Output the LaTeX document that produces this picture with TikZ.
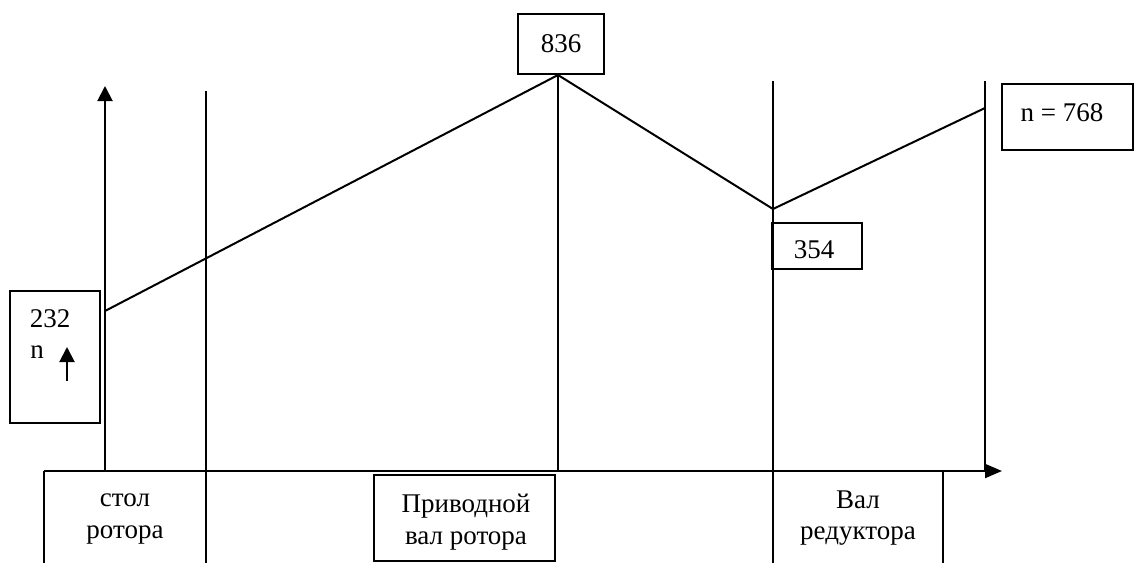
\documentclass[tikz,border=0pt]{standalone}
\usepackage{fontspec}
\setmainfont{Liberation Serif}
\usetikzlibrary{arrows.meta}
\begin{document}
\begin{tikzpicture}[x=1pt,y=-1pt,
  ln/.style={line width=2pt},
  bx/.style={draw,line width=1.8pt},
  lbl/.style={font=\fontsize{27}{31.5}\selectfont,inner sep=0pt,align=center},
  tip/.style={-{Triangle[length=15pt,width=15pt]}}]
\useasboundingbox (0,0) rectangle (1134,563);
% label boxes
\node[bx,minimum width=90pt,minimum height=132pt,inner sep=0pt] (b232) at (55,357) {};
\node[lbl] (t232) at (50,319) {232};
\node[lbl] (tn) at (37,352) {n};
\coordinate (sa0) at (67,381);
\coordinate (sa1) at (67,347);
\draw[ln,tip] (sa0) -- (sa1);
\node[bx,minimum width=86pt,minimum height=60pt,inner sep=0pt] (b836) at (561,44) {};
\node[lbl] (t836) at (561,44) {836};
\node[bx,minimum width=131pt,minimum height=66pt,inner sep=0pt] (b768) at (1067.5,117) {};
\node[lbl] (t768) at (1062,113) {n = 768};
\node[bx,minimum width=90pt,minimum height=46pt,inner sep=0pt] (b354) at (817,246) {};
\node[lbl] (t354) at (814,250) {354};
\node[bx,minimum width=181pt,minimum height=86pt,inner sep=0pt] (bpriv) at (464.5,518) {};
\node[lbl] (tpriv) at (466,522) {Приводной\\вал ротора};
\node[lbl] (tstol) at (125,519) {стол\\ротора};
\node[lbl] (tval) at (858,518) {Вал\\редуктора};
% axes
\coordinate (o) at (105,471);
\coordinate (ytop) at (105,86);
\coordinate (xl) at (44,471);
\coordinate (xr) at (1002,471);
\draw[ln,tip] (o) -- (ytop);
\draw[ln,-{Triangle[length=17pt,width=14pt]}] (xl) -- (xr);
% bottom box edges
\coordinate (sl) at (44,563);
\coordinate (vr) at (943,471);
\coordinate (vrb) at (943,563);
\draw[ln] (xl) -- (sl);
\draw[ln] (vr) -- (vrb);
% verticals
\coordinate (v1t) at (206,91);
\coordinate (v1b) at (206,563);
\coordinate (v2t) at (558,75);
\coordinate (v2b) at (558,471);
\coordinate (v3t) at (773,81);
\coordinate (v3b) at (773,563);
\coordinate (v4t) at (985,81);
\coordinate (v4b) at (985,471);
\draw[ln] (v1t) -- (v1b);
\draw[ln] (v2t) -- (v2b);
\draw[ln] (v3t) -- (v3b);
\draw[ln] (v4t) -- (v4b);
% polyline
\coordinate (p1) at (105,311);
\coordinate (p3) at (773,209);
\coordinate (p4) at (985,108);
\draw[ln,line join=miter] (p1) -- (v2t) -- (p3) -- (p4);
\end{tikzpicture}
\end{document}
